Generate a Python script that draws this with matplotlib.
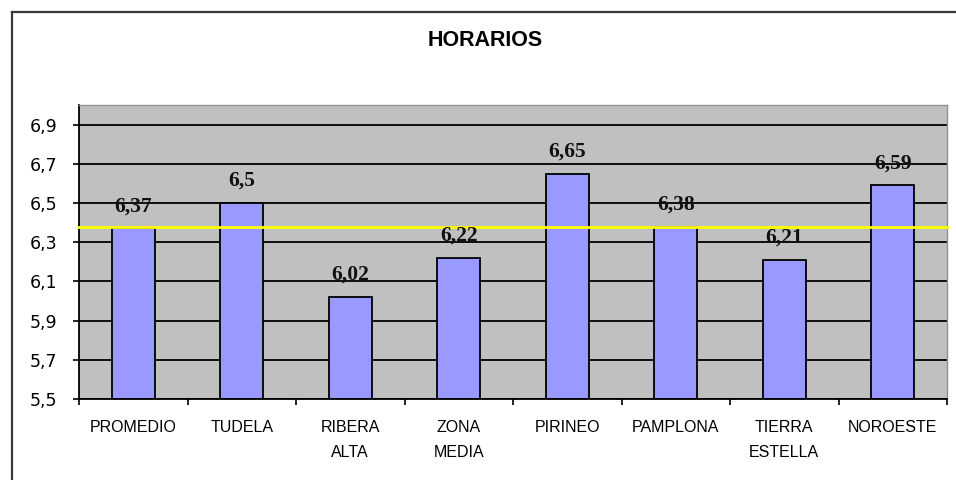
import matplotlib
matplotlib.use("Agg")
import matplotlib.pyplot as plt
from matplotlib.lines import Line2D
from matplotlib.ticker import FixedLocator, FuncFormatter
import numpy as np

categories = ["PROMEDIO", "TUDELA", "RIBERA\nALTA", "ZONA\nMEDIA", "PIRINEO",
              "PAMPLONA", "TIERRA\nESTELLA", "NOROESTE"]
values = [6.37, 6.5, 6.02, 6.22, 6.65, 6.38, 6.21, 6.59]
value_labels = ["6,37", "6,5", "6,02", "6,22", "6,65", "6,38", "6,21", "6,59"]
reference_line = 6.38
y_ticks = [5.5, 5.7, 5.9, 6.1, 6.3, 6.5, 6.7, 6.9]
title = "HORARIOS"

W, H = 956, 480
fig = plt.figure(figsize=(W / 100, H / 100), dpi=100)
fig.patch.set_facecolor("white")

# outer chart frame (left and top edges visible)
fig.add_artist(Line2D([11.5 / W, 11.5 / W], [0, 1 - 11.5 / H], transform=fig.transFigure,
                      color="#3a3a3a", lw=1.6))
fig.add_artist(Line2D([11.5 / W, 1], [1 - 11.5 / H, 1 - 11.5 / H], transform=fig.transFigure,
                      color="#3a3a3a", lw=1.6))

left, right, bottom, top = 79, 947, 399, 105
ax = fig.add_axes([left / W, 1 - bottom / H, (right - left) / W, (bottom - top) / H])
ax.set_facecolor("#C0C0C0")

x = np.arange(len(categories))
ax.set_xlim(-0.5, len(categories) - 0.5)
ax.set_ylim(5.5, 7.0)

ax.yaxis.set_major_locator(FixedLocator(y_ticks))
ax.yaxis.set_major_formatter(FuncFormatter(lambda v, p: f"{v:.1f}".replace(".", ",")))
ax.grid(axis="y", color="black", lw=1.3, zorder=1)
ax.set_axisbelow(True)

bars = ax.bar(x, [v - 5.5 for v in values], bottom=5.5, width=0.4, color="#9999FF",
              edgecolor="black", lw=1.3, zorder=2)

ax.axhline(reference_line, color="#FFFF00", lw=2, zorder=3, clip_on=False)

for xi, v, lab in zip(x, values, value_labels):
    ax.annotate(lab, (xi, v), xytext=(0, 12), textcoords="offset pixels",
                ha="center", va="bottom", fontsize=15.5, fontweight="bold",
                family=["Liberation Serif", "DejaVu Serif"], color="#111111", zorder=4)

# x axis: ticks between categories, labels centered
ax.set_xticks(np.arange(-0.5, len(categories), 1.0))
ax.set_xticklabels([])
ax.set_xticks(x, minor=True)
ax.set_xticklabels(categories, minor=True, family=["Liberation Sans", "DejaVu Sans"],
                   fontsize=11.5, linespacing=1.85, va="top")
ax.tick_params(axis="x", which="major", direction="out", length=4.5, width=1.2, color="black")
ax.tick_params(axis="x", which="minor", length=0, pad=15)
ax.tick_params(axis="y", direction="out", length=4.5, width=1.2, color="black", pad=11,
               labelsize=12.5)
for lab in ax.get_yticklabels():
    lab.set_family(["DejaVu Sans"])

for s in ["top", "right"]:
    ax.spines[s].set_color("#909090")
    ax.spines[s].set_linewidth(1.0)
for s in ["left", "bottom"]:
    ax.spines[s].set_color("black")
    ax.spines[s].set_linewidth(1.3)

fig.text(485 / W, 1 - 41 / H, title, ha="center", va="center", fontsize=15.5,
         fontweight="bold", family=["Liberation Sans", "DejaVu Sans"])

fig.savefig("out.png", dpi=100)
